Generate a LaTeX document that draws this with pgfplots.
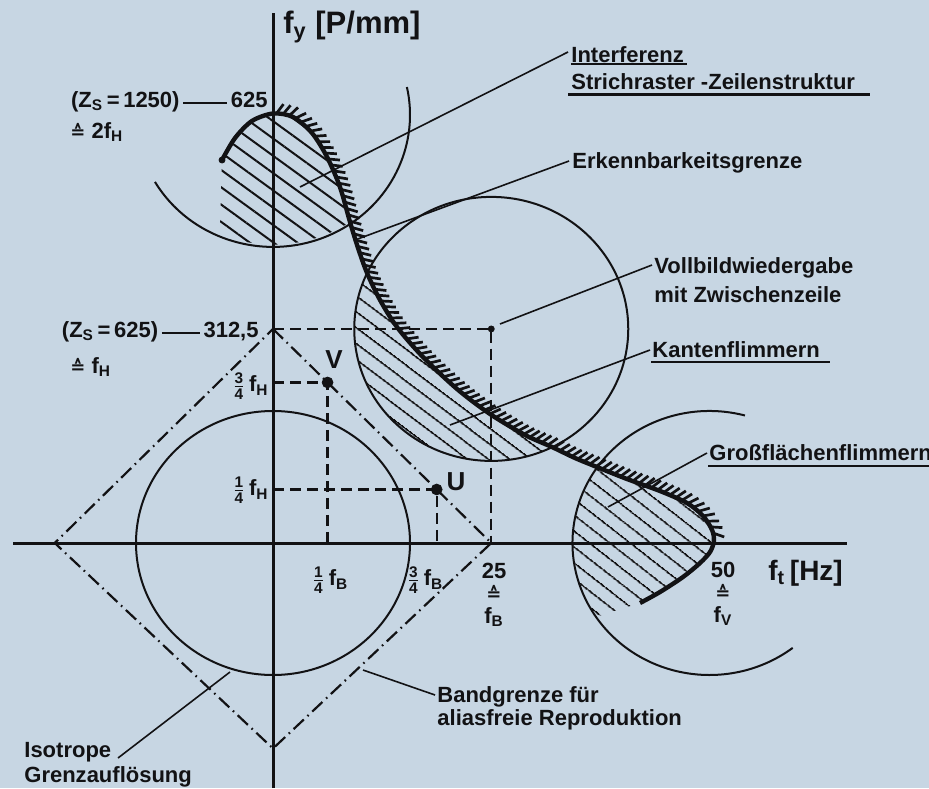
\documentclass[border=0pt]{standalone}
\usepackage{amsmath}
\usepackage{pgfplots}
\pgfplotsset{compat=1.18}
\usepackage{fontspec}
\setmainfont{Liberation Sans}
\newfontfamily\dejavu{DejaVu Sans}
\usetikzlibrary{calc,patterns.meta,decorations.markings}
\definecolor{bg}{RGB}{199,214,227}
\definecolor{ink}{RGB}{18,18,20}
\newcommand{\fr}[2]{$\frac{\text{#1}}{\text{#2}}$}
\newcommand{\corr}{{\dejavu\bfseries\fontsize{9}{9}\selectfont ≙}}
\begin{document}
\begin{tikzpicture}[every node/.style={inner sep=0pt, text=ink, font=\fontsize{11}{13}\selectfont\bfseries}]
\path[use as bounding box, fill=bg] (0,0) rectangle (464.5pt,394pt);
% geometry in image pixel coordinates (circles and hatched areas)
\begin{scope}[shift={(0pt,394pt)}, x=0.5pt, y=-0.5pt]
\fill[pattern={Lines[angle=-36,distance=7pt,line width=1pt]}, pattern color=ink]
 plot[smooth] coordinates {(222,160) (235,138) (252,121) (273,113.5) (293,117) (312,133) (327,157) (340,187) (350,222)}
 arc[start angle=-56,end angle=-113,x radius=68.5pt,y radius=66pt] -- cycle;
\fill[pattern={Lines[angle=-37,distance=6.5pt,line width=1pt]}, pattern color=ink]
 plot[smooth] coordinates {(367,273) (380,300) (397,327) (423,357) (457,389) (490,414) (525,435) (552,447)}
 arc[start angle=-63.6,end angle=-205,x radius=68.5pt,y radius=66pt] -- cycle;
\fill[pattern={Lines[angle=-38,distance=6.5pt,line width=1pt]}, pattern color=ink]
 plot[smooth] coordinates {(597,467) (627,479) (660,491) (687,503) (703,516) (712,530) (714,541) (710,552) (700,563) (683,577) (660,592) (640,603)}
 -- (595.9,616.8) arc[start angle=-146,end angle=-215.2,x radius=68.5pt,y radius=66pt] -- cycle;
\draw[ink, line width=1pt] (273,543) ellipse[x radius=68.5pt, y radius=66pt];
\draw[ink, line width=1pt] (491.25,328.9) ellipse[x radius=68.5pt, y radius=66pt];
\draw[ink, line width=1pt] ($(273,114.9)+(210.5:68.5pt and 66pt)$) arc[start angle=210.5,end angle=372.2,x radius=68.5pt,y radius=66pt];
\draw[ink, line width=1pt] ($(709.5,543)+(75:68.5pt and 66pt)$) arc[start angle=75,end angle=307.4,x radius=68.5pt,y radius=66pt];
% hatch ticks on the outer side of the Erkennbarkeitsgrenze
\path[postaction={decorate, decoration={markings, mark=between positions 0.005 and 0.995 step 3.3pt with {\draw[ink, line width=1.35pt] (0pt,0pt) -- (58:6pt);}}}]
 plot[smooth] coordinates {(273,113.5) (293,117) (312,133) (327,157) (340,187) (350,222) (358,248) (367,273) (380,300) (397,327) (423,357) (457,389) (490,414) (525,435) (552,447) (575,458) (597,467) (627,479) (660,491) (687,503) (703,516) (712,530) (714,541)};
\end{scope}
\begin{axis}[at={(0,0)}, anchor=south west, scale only axis,
  width=464.5pt, height=394pt,
  xmin=-31.27, xmax=75.14, ymin=-357.66, ymax=792.7,
  axis lines=none, clip=false]
% dashed guides
\addplot[ink, line width=1.2pt, dash pattern=on 5.5pt off 3pt] coordinates {(0,312.5) (25,312.5) (25,0)};
\addplot[ink, line width=1.2pt, dash pattern=on 5.5pt off 3pt] coordinates {(0,234.375) (6.25,234.375) (6.25,0)};
\addplot[ink, line width=1.2pt, dash pattern=on 5.5pt off 3pt] coordinates {(0,78.125) (18.75,78.125) (18.75,0)};
% band limit diamond
\addplot[ink, line width=1.1pt, dash pattern=on 7pt off 2.5pt on 0.8pt off 2.5pt] coordinates {(0,312.5) (25,0) (0,-300) (-25,0) (0,312.5)};
% axes
\addplot[ink, line width=1.5pt] coordinates {(-29.78,0) (65.75,0)};
\addplot[ink, line width=1.5pt] coordinates {(0,-357.66) (0,773.7)};
% Erkennbarkeitsgrenze
\addplot[ink, line width=2.2pt, smooth] coordinates {(-5.84,559.1) (-4.35,591.2) (-2.41,616.1) (0,627) (2.29,621.9) (4.47,598.5) (6.19,563.5) (7.67,519.7) (8.82,468.6) (9.74,430.7) (10.77,394.2) (12.26,354.7) (14.20,315.3) (17.18,271.5) (21.08,224.8) (24.86,188.3) (28.87,157.7) (31.96,140.1) (34.59,124.1) (37.11,110.9) (40.55,93.4) (44.33,75.9) (47.42,58.4) (49.26,39.4) (50.29,19.0) (50.50,2.9) (50.06,-13.1) (48.91,-29.2) (46.96,-49.6) (44.33,-71.5) (42.04,-87.6)};
% points
\addplot[only marks, mark=*, mark size=2.7pt, ink] coordinates {(6.25,234.375) (18.75,78.125)};
\addplot[only marks, mark=*, mark size=1.5pt, ink] coordinates {(25,312.5) (-5.84,559.1)};
\end{axis}
% annotations in image pixel coordinates
\begin{scope}[shift={(0pt,394pt)}, x=0.5pt, y=-0.5pt]
\node[anchor=west, font=\fontsize{15.5}{17}\selectfont\bfseries] at (283,27) {f\textsubscript{y} [P/mm]};
\node[anchor=west, font=\fontsize{14}{16}\selectfont\bfseries] at (768,573) {f\textsubscript{t}\,[Hz]};
\node[anchor=east] at (268,102) {(Z\textsubscript{S}\,=\,1250)\,\rule[0.32ex]{22pt}{0.8pt}\,625};
\node[anchor=west] at (70,132) {\corr\ 2f\textsubscript{H}};
\node[anchor=east] at (259,332) {(Z\textsubscript{S}\,=\,625)\,\rule[0.32ex]{19pt}{0.8pt}\,312,5};
\node[anchor=west] at (70,367) {\corr\ f\textsubscript{H}};
\node[anchor=east] at (269,386) {\fr{3}{4}\,f\textsubscript{H}};
\node[anchor=east] at (269,490) {\fr{1}{4}\,f\textsubscript{H}};
\node at (330,580) {\fr{1}{4}\,f\textsubscript{B}};
\node at (425,580) {\fr{3}{4}\,f\textsubscript{B}};
\node at (494,571) {25};
\node at (494,593) {\corr};
\node at (494,617) {f\textsubscript{B}};
\node at (723,570) {50};
\node at (723,592) {\corr};
\node at (723,616) {f\textsubscript{V}};
\node[font=\fontsize{13}{15}\selectfont\bfseries] at (334,360) {V};
\node[font=\fontsize{13}{15}\selectfont\bfseries] at (456,482) {U};
% right labels
\node[anchor=west] at (571,55) {Interferenz};
\draw[ink, line width=1pt] (571,64) -- (687,64);
\node[anchor=west] at (571,82) {Strichraster -Zeilenstruktur};
\draw[ink, line width=1.5pt] (568,95) -- (870,95);
\draw[ink, line width=0.8pt] (300,187) -- (568,52);
\node[anchor=west] at (572,163) {Erkennbarkeitsgrenze};
\draw[ink, line width=0.8pt] (355,240) -- (569,161);
\node[anchor=west] at (654,268) {Vollbildwiedergabe};
\node[anchor=west] at (654,295) {mit Zwischenzeile};
\draw[ink, line width=0.8pt] (500,324) -- (652,265);
\node[anchor=west] at (652,350) {Kantenflimmern};
\draw[ink, line width=1.3pt] (651,362) -- (830,362);
\draw[ink, line width=0.8pt] (450,425) -- (650,350);
\node[anchor=west] at (709,453) {Großflächenflimmern};
\draw[ink, line width=1.3pt] (708,466) -- (940,466);
\draw[ink, line width=0.8pt] (608,507) -- (707,453);
\node[anchor=west] at (437,697) {Bandgrenze für};
\node[anchor=west] at (437,720) {aliasfreie Reproduktion};
\draw[ink, line width=0.8pt] (363,670) -- (435,695);
\node[anchor=west] at (24,752) {Isotrope};
\node[anchor=west] at (24,777) {Grenzauflösung};
\draw[ink, line width=0.8pt] (118,758) -- (230,672);
\end{scope}
\end{tikzpicture}
\end{document}
